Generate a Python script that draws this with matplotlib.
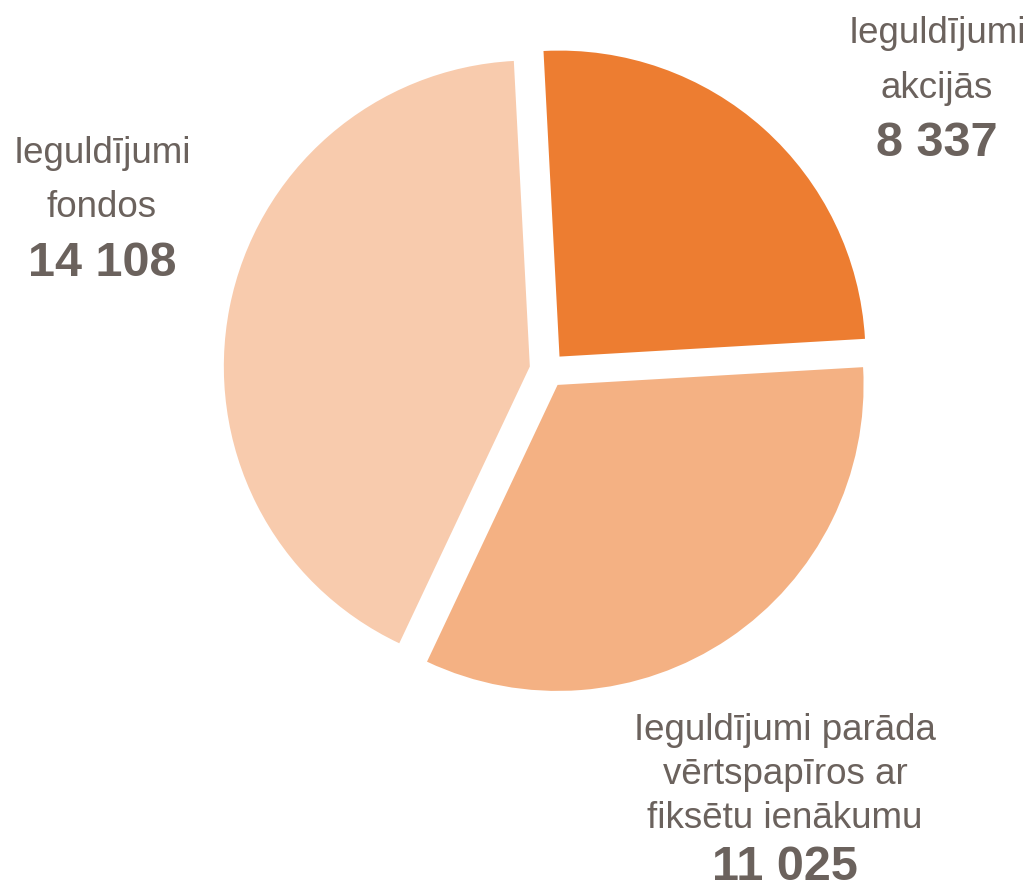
import matplotlib
matplotlib.use("Agg")
import matplotlib.pyplot as plt

plt.rcParams['font.family'] = ['Liberation Sans', 'DejaVu Sans']

labels = ["Ieguldījumi\nakcijās", "Ieguldījumi parāda\nvērtspapīros ar\nfiksētu ienākumu", "Ieguldījumi\nfondos"]
values = [8337, 11025, 14108]
colors = ["#ED7D31", "#F4B183", "#F8CBAD"]
value_labels = ["8 337", "11 025", "14 108"]

W, H = 1031, 890
fig = plt.figure(figsize=(W / 100, H / 100), dpi=100)
ax = fig.add_axes([0, 0, 1, 1])

# explode is in data units (pixels here), not a fraction of the radius
ax.pie(values, colors=colors, startangle=93, counterclock=False,
       center=(547.5, H - 370), radius=306,
       explode=[18] * 3, wedgeprops=dict(linewidth=0))

ax.set_xlim(0, W)
ax.set_ylim(0, H)
ax.set_aspect('equal')
ax.axis('off')

txt = "#6B625D"
# (x centre, baselines of name lines, baseline of number) in pixels from top
label_pos = [
    (937, [43, 98], 156),
    (785, [740, 784, 828], 880),
    (102, [163, 217], 276),
]
for lab, val, (x, ys, yv) in zip(labels, value_labels, label_pos):
    for line, y in zip(lab.split("\n"), ys):
        ax.text(x, H - y, line, ha='center', va='baseline', fontsize=26.5, color=txt)
    ax.text(x, H - yv, val, ha='center', va='baseline', fontsize=35,
            fontweight='bold', color=txt)

fig.savefig("out.png", dpi=100)
